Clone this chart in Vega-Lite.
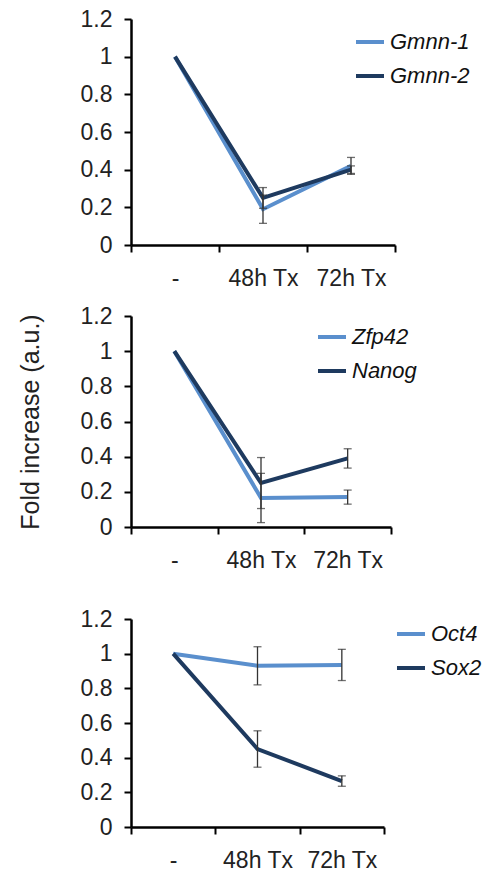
{
  "$schema": "https://vega.github.io/schema/vega-lite/v6.json",
  "background": "white",
  "padding": {"left": 18, "top": 8, "right": 0, "bottom": 0},
  "spacing": 15,
  "config": {
    "view": {"stroke": null},
    "font": "Liberation Sans",
    "axis": {
      "grid": false,
      "domainColor": "#000",
      "domainWidth": 2.5,
      "tickColor": "#000",
      "tickWidth": 2,
      "tickSize": 7,
      "labelFont": "Liberation Sans",
      "labelFontSize": 23,
      "labelColor": "#222",
      "labelOverlap": false,
      "titleFont": "Liberation Sans",
      "titleFontWeight": "normal",
      "titleColor": "#222"
    }
  },
  "datasets": {
    "p1": [
      {"time": "-", "gene": "Gmnn-1", "value": 1, "err": null},
      {"time": "48h Tx", "gene": "Gmnn-1", "value": 0.19, "err": 0.075},
      {"time": "72h Tx", "gene": "Gmnn-1", "value": 0.42, "err": 0.045},
      {"time": "-", "gene": "Gmnn-2", "value": 1, "err": null},
      {"time": "48h Tx", "gene": "Gmnn-2", "value": 0.25, "err": 0.055},
      {"time": "72h Tx", "gene": "Gmnn-2", "value": 0.40, "err": 0.02}
    ],
    "p2": [
      {"time": "-", "gene": "Zfp42", "value": 1, "err": null},
      {"time": "48h Tx", "gene": "Zfp42", "value": 0.165, "err": 0.14},
      {"time": "72h Tx", "gene": "Zfp42", "value": 0.17, "err": 0.04},
      {"time": "-", "gene": "Nanog", "value": 1, "err": null},
      {"time": "48h Tx", "gene": "Nanog", "value": 0.25, "err": 0.145},
      {"time": "72h Tx", "gene": "Nanog", "value": 0.39, "err": 0.055}
    ],
    "p3": [
      {"time": "-", "gene": "Oct4", "value": 1, "err": null},
      {"time": "48h Tx", "gene": "Oct4", "value": 0.93, "err": 0.11},
      {"time": "72h Tx", "gene": "Oct4", "value": 0.935, "err": 0.09},
      {"time": "-", "gene": "Sox2", "value": 1, "err": null},
      {"time": "48h Tx", "gene": "Sox2", "value": 0.45, "err": 0.105},
      {"time": "72h Tx", "gene": "Sox2", "value": 0.265, "err": 0.03}
    ]
  },
  "resolve": {"scale": {"color": "independent", "x": "independent", "y": "independent"}, "legend": {"color": "independent"}},
  "vconcat": [
    {
      "width": 264, "height": 226,
      "data": {"name": "p1"},
      "layer": [
        {
          "mark": {"type": "line", "strokeWidth": 4},
          "encoding": {
            "x": {"field": "time", "type": "nominal", "sort": ["-", "48h Tx", "72h Tx"], "title": null,
                  "scale": {"type": "band", "domain": ["-", "48h Tx", "72h Tx"], "paddingInner": 0, "paddingOuter": 0},
                  "axis": {"labelAngle": 0, "tickBand": "extent", "labelPadding": 15}},
            "y": {"field": "value", "type": "quantitative", "title": null, "scale": {"domain": [0, 1.2]},
                  "axis": {"values": [0, 0.2, 0.4, 0.6, 0.8, 1, 1.2], "format": "~g", "labelPadding": 12, "labelOverlap": false}},
            "color": {"field": "gene", "type": "nominal",
                      "scale": {"domain": ["Gmnn-1", "Gmnn-2"], "range": ["#5a8fcd", "#1e3a5f"]},
                      "legend": {"orient": "none", "legendX": 223, "legendY": 7, "title": null,
                                 "symbolType": "stroke", "symbolStrokeWidth": 4, "symbolSize": 784,
                                 "labelFontSize": 22, "labelFontStyle": "italic", "labelFont": "Liberation Sans",
                                 "labelColor": "#111", "rowPadding": 7, "labelOffset": 4}}
          }
        },
        {
          "transform": [{"filter": "datum.err != null"}],
          "mark": {"type": "errorbar", "color": "#333", "thickness": 1.3, "ticks": {"size": 8, "thickness": 1.3, "color": "#333"}},
          "encoding": {
            "x": {"field": "time", "type": "nominal", "title": null,
                  "axis": {"labelAngle": 0, "tickBand": "extent", "labelPadding": 15}},
            "y": {"field": "value", "type": "quantitative", "title": null,
                  "axis": {"values": [0, 0.2, 0.4, 0.6, 0.8, 1, 1.2], "format": "~g", "labelPadding": 12, "labelOverlap": false}},
            "yError": {"field": "err"}
          }
        }
      ]
    },
    {
      "width": 260, "height": 211,
      "data": {"name": "p2"},
      "layer": [
        {
          "mark": {"type": "line", "strokeWidth": 4},
          "encoding": {
            "x": {"field": "time", "type": "nominal", "sort": ["-", "48h Tx", "72h Tx"], "title": " ",
                  "scale": {"type": "band", "domain": ["-", "48h Tx", "72h Tx"], "paddingInner": 0, "paddingOuter": 0},
                  "axis": {"labelAngle": 0, "tickBand": "extent", "labelPadding": 15, "titleFontSize": 12, "titlePadding": 10}},
            "y": {"field": "value", "type": "quantitative", "title": "Fold increase (a.u.)", "scale": {"domain": [0, 1.2]},
                  "axis": {"titleFontSize": 25, "titlePadding": 37, "values": [0, 0.2, 0.4, 0.6, 0.8, 1, 1.2], "format": "~g", "labelPadding": 12, "labelOverlap": false}},
            "color": {"field": "gene", "type": "nominal",
                      "scale": {"domain": ["Zfp42", "Nanog"], "range": ["#5a8fcd", "#1e3a5f"]},
                      "legend": {"orient": "none", "legendX": 185, "legendY": 5, "title": null,
                                 "symbolType": "stroke", "symbolStrokeWidth": 4, "symbolSize": 784,
                                 "labelFontSize": 22, "labelFontStyle": "italic", "labelFont": "Liberation Sans",
                                 "labelColor": "#111", "rowPadding": 7, "labelOffset": 4}}
          }
        },
        {
          "transform": [{"filter": "datum.err != null"}],
          "mark": {"type": "errorbar", "color": "#333", "thickness": 1.3, "ticks": {"size": 8, "thickness": 1.3, "color": "#333"}},
          "encoding": {
            "x": {"field": "time", "type": "nominal", "title": " ",
                  "axis": {"labelAngle": 0, "tickBand": "extent", "labelPadding": 15, "titleFontSize": 12, "titlePadding": 10}},
            "y": {"field": "value", "type": "quantitative", "title": "Fold increase (a.u.)",
                  "axis": {"titleFontSize": 25, "titlePadding": 37, "values": [0, 0.2, 0.4, 0.6, 0.8, 1, 1.2], "format": "~g", "labelPadding": 12, "labelOverlap": false}},
            "yError": {"field": "err"}
          }
        }
      ]
    },
    {
      "width": 253, "height": 208,
      "data": {"name": "p3"},
      "layer": [
        {
          "mark": {"type": "line", "strokeWidth": 4},
          "encoding": {
            "x": {"field": "time", "type": "nominal", "sort": ["-", "48h Tx", "72h Tx"], "title": null,
                  "scale": {"type": "band", "domain": ["-", "48h Tx", "72h Tx"], "paddingInner": 0, "paddingOuter": 0},
                  "axis": {"labelAngle": 0, "tickBand": "extent", "labelPadding": 15}},
            "y": {"field": "value", "type": "quantitative", "title": null, "scale": {"domain": [0, 1.2]},
                  "axis": {"values": [0, 0.2, 0.4, 0.6, 0.8, 1, 1.2], "format": "~g", "labelPadding": 12, "labelOverlap": false}},
            "color": {"field": "gene", "type": "nominal",
                      "scale": {"domain": ["Oct4", "Sox2"], "range": ["#5a8fcd", "#1e3a5f"]},
                      "legend": {"orient": "none", "legendX": 264, "legendY": -1, "title": null,
                                 "symbolType": "stroke", "symbolStrokeWidth": 4, "symbolSize": 784,
                                 "labelFontSize": 22, "labelFontStyle": "italic", "labelFont": "Liberation Sans",
                                 "labelColor": "#111", "rowPadding": 7, "labelOffset": 4}}
          }
        },
        {
          "transform": [{"filter": "datum.err != null"}],
          "mark": {"type": "errorbar", "color": "#333", "thickness": 1.3, "ticks": {"size": 8, "thickness": 1.3, "color": "#333"}},
          "encoding": {
            "x": {"field": "time", "type": "nominal", "title": null,
                  "axis": {"labelAngle": 0, "tickBand": "extent", "labelPadding": 15}},
            "y": {"field": "value", "type": "quantitative", "title": null,
                  "axis": {"values": [0, 0.2, 0.4, 0.6, 0.8, 1, 1.2], "format": "~g", "labelPadding": 12, "labelOverlap": false}},
            "yError": {"field": "err"}
          }
        }
      ]
    }
  ]
}
